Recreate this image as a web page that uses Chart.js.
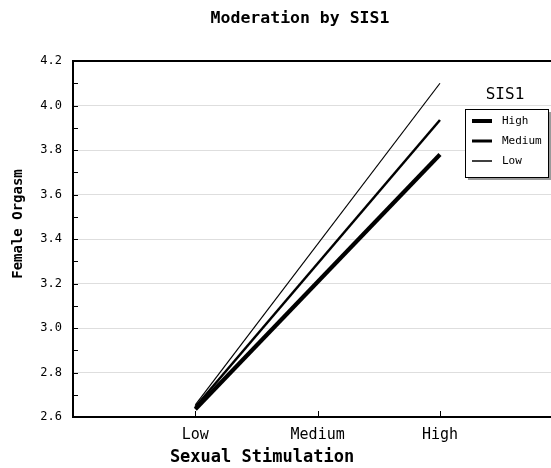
<!DOCTYPE html>
<html>
<head>
<meta charset="utf-8">
<script src="https://cdn.jsdelivr.net/npm/chart.js@4"></script>
<style>
  html, body { margin: 0; padding: 0; background: #fff; overflow: hidden; }
  #wrap { width: 600px; height: 468px; }
</style>
</head>
<body>
<div id="wrap"><canvas id="chart" width="600" height="468"></canvas></div>
<script>
// --- DATA ---
const categories = ['Low', 'Medium', 'High'];
const seriesNames = ['High', 'Medium', 'Low'];
const highSIS = [2.635, null, 3.78];
const mediumSIS = [2.645, null, 3.935];
const lowSIS = [2.655, null, 4.10];
const yTicks = [2.6, 2.8, 3.0, 3.2, 3.4, 3.6, 3.8, 4.0, 4.2];

const MONO = '"DejaVu Sans Mono", "Liberation Mono", monospace';

const toPoints = vals => categories.map((c, i) => ({ x: i, y: vals[i] }));
const isMajor = v => Math.abs(v * 5 - Math.round(v * 5)) < 1e-6;

// --- PLUGIN: frame, inner tick marks, axis titles, legend ---
const decor = {
    id: 'decor',
    afterDraw(chart) {
        const { ctx, chartArea: a, scales: { x, y } } = chart;
        ctx.save();

        // frame (top, left, bottom)
        ctx.strokeStyle = '#000';
        ctx.lineWidth = 2;
        ctx.beginPath();
        ctx.moveTo(chart.width, a.top); ctx.lineTo(a.left, a.top);
        ctx.lineTo(a.left, a.bottom); ctx.lineTo(chart.width, a.bottom);
        ctx.stroke();

        // y tick marks pointing inward
        ctx.lineWidth = 1;
        ctx.beginPath();
        y.ticks.forEach(t => {
            const py = Math.round(y.getPixelForValue(t.value)) + 0.5;
            ctx.moveTo(a.left, py); ctx.lineTo(a.left + 5, py);
        });
        // x tick marks at the categories
        categories.forEach((c, i) => {
            const px = Math.round(x.getPixelForValue(i)) + 0.5;
            ctx.moveTo(px, a.bottom); ctx.lineTo(px, a.bottom - 6);
        });
        ctx.stroke();

        // axis titles
        ctx.fillStyle = '#000';
        ctx.font = 'bold 17px ' + MONO;
        ctx.textAlign = 'center';
        ctx.textBaseline = 'middle';
        ctx.fillText('Sexual Stimulation', 262, 458);

        ctx.save();
        ctx.translate(18, 224);
        ctx.rotate(-Math.PI / 2);
        ctx.font = 'bold 14px ' + MONO;
        ctx.fillText('Female Orgasm', 0, 0);
        ctx.restore();

        // legend
        const bx = 465, by = 109, bw = 83, bh = 68;
        ctx.fillStyle = '#9a9a9a';
        ctx.fillRect(bx + 3, by + 3, bw, bh);
        ctx.fillStyle = '#fff';
        ctx.fillRect(bx, by, bw, bh);
        ctx.strokeStyle = '#000';
        ctx.lineWidth = 1;
        ctx.strokeRect(bx + 0.5, by + 0.5, bw, bh);

        ctx.fillStyle = '#000';
        ctx.font = '16px ' + MONO;
        ctx.textAlign = 'center';
        ctx.fillText('SIS1', 505, 95);

        ctx.font = '11px ' + MONO;
        ctx.textAlign = 'left';
        chart.data.datasets.forEach((ds, i) => {
            const ly = 121 + i * 20;
            ctx.lineWidth = ds.legendWidth;
            ctx.beginPath();
            ctx.moveTo(472, ly); ctx.lineTo(492, ly);
            ctx.stroke();
            ctx.fillText(ds.label, 502, ly);
        });
        ctx.restore();
    }
};

const makeSet = (label, vals, width, legendWidth) => ({
    label,
    data: toPoints(vals),
    borderColor: '#000',
    borderWidth: width,
    legendWidth,
    pointRadius: 0,
    spanGaps: true,
    tension: 0,
    borderCapStyle: 'butt'
});

new Chart(document.getElementById('chart'), {
    type: 'line',
    data: {
        datasets: [
            makeSet(seriesNames[0], highSIS, 4.2, 4),
            makeSet(seriesNames[1], mediumSIS, 2.5, 3),
            makeSet(seriesNames[2], lowSIS, 1.2, 1.5)
        ]
    },
    options: {
        responsive: false,
        animation: false,
        layout: { padding: 0 },
        plugins: {
            legend: { display: false },
            tooltip: { enabled: false },
            title: {
                display: true,
                text: 'Moderation by SIS1',
                color: '#000',
                font: { family: MONO, size: 16.5, weight: 'bold' },
                padding: { top: 9, bottom: 32.2 }
            }
        },
        scales: {
            x: {
                type: 'linear',
                min: -1,
                max: 3.3,
                afterFit: s => { s.height = 51; },
                border: { display: false },
                grid: { display: false },
                ticks: {
                    stepSize: 1,
                    padding: 1,
                    color: '#000',
                    font: { family: MONO, size: 15 },
                    maxRotation: 0,
                    callback: v => categories[v] || ''
                }
            },
            y: {
                min: 2.6,
                max: 4.2,
                afterFit: s => { s.width = 73; },
                afterBuildTicks: s => {
                    // majors from yTicks plus a minor tick between each
                    const all = [];
                    yTicks.forEach((v, i) => {
                        all.push({ value: v });
                        if (i < yTicks.length - 1) all.push({ value: (v + yTicks[i + 1]) / 2 });
                    });
                    s.ticks = all;
                },
                border: { display: false },
                grid: {
                    drawTicks: false,
                    lineWidth: 1,
                    color: c => (c.tick && isMajor(c.tick.value) && c.tick.value > 2.61 && c.tick.value < 4.19) ? '#dedede' : 'rgba(0,0,0,0)'
                },
                ticks: {
                    padding: 11,
                    color: '#000',
                    font: { family: MONO, size: 12 },
                    callback: v => isMajor(v) ? v.toFixed(1) : ''
                }
            }
        }
    },
    plugins: [decor]
});
</script>
</body>
</html>
